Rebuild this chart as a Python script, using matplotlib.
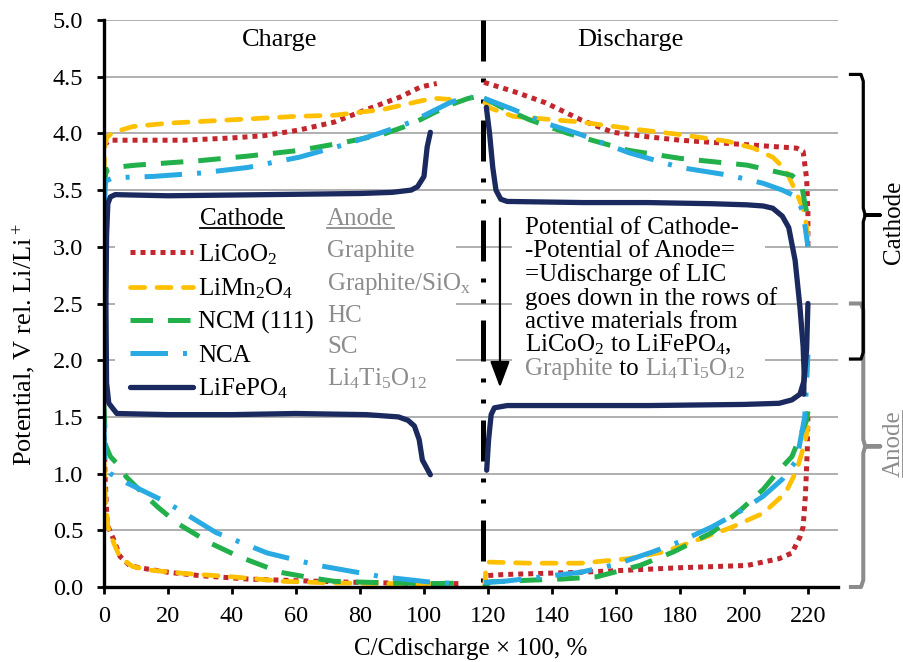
import matplotlib
matplotlib.use('Agg')
import matplotlib.pyplot as plt
from matplotlib.patches import Rectangle
from matplotlib.lines import Line2D
from matplotlib.transforms import IdentityTransform

plt.rcParams['font.family'] = ['Liberation Serif', 'DejaVu Serif']
plt.rcParams['mathtext.default'] = 'regular'

# ---------------- data ----------------
x_ticks = list(range(0, 221, 20))
y_ticks = [0.0, 0.5, 1.0, 1.5, 2.0, 2.5, 3.0, 3.5, 4.0, 4.5, 5.0]
divider_x = 118.4

# LiCoO2 cathode / Graphite anode
licoo2_chg_x = [0, 2, 10, 25, 40, 50, 61, 72, 82, 92.5, 99, 104]
licoo2_chg_y = [3.90, 3.94, 3.94, 3.94, 3.96, 3.98, 4.03, 4.10, 4.21, 4.32, 4.41, 4.44]
graphite_chg_x = [0, 0.3, 1, 3, 5, 8, 11, 20, 30, 45, 61, 80, 100, 111]
graphite_chg_y = [1.50, 1.00, 0.55, 0.42, 0.27, 0.19, 0.17, 0.13, 0.10, 0.07, 0.055, 0.04, 0.03, 0.03]
licoo2_dis_x = [118.8, 128, 138, 149, 159, 170, 180, 201, 216.5, 218.5, 219.6, 220, 220]
licoo2_dis_y = [4.45, 4.37, 4.27, 4.12, 4.01, 3.97, 3.94, 3.90, 3.87, 3.84, 3.60, 3.30, 3.00]
graphite_dis_x = [119, 119.5, 125, 149, 165, 180, 201, 211, 215, 217.5, 218.5, 219.2, 219.8, 220]
graphite_dis_y = [0.03, 0.10, 0.11, 0.13, 0.15, 0.17, 0.19, 0.25, 0.30, 0.44, 0.53, 0.80, 1.20, 1.50]

# LiMn2O4 cathode / Graphite-SiOx anode
limn_chg_x = [0, 0.3, 1, 3, 9, 20, 40, 60, 72, 87, 98, 103, 108]
limn_chg_y = [3.65, 3.90, 3.97, 4.01, 4.06, 4.09, 4.12, 4.15, 4.16, 4.21, 4.28, 4.31, 4.30]
sio_chg_x = [0, 0.5, 1.2, 3, 5, 9, 14, 25, 40, 56, 72, 90, 108]
sio_chg_y = [1.10, 0.75, 0.53, 0.39, 0.26, 0.18, 0.15, 0.12, 0.09, 0.05, 0.035, 0.03, 0.03]
limn_dis_x = [119, 121, 128, 149, 165, 180, 195, 203, 209, 213, 216.5, 219, 220]
limn_dis_y = [4.27, 4.22, 4.15, 4.10, 4.04, 3.99, 3.93, 3.87, 3.79, 3.68, 3.47, 3.30, 3.08]
sio_dis_x = [119, 119.3, 120, 133, 149, 164, 175, 185, 195.6, 206, 213, 216.5, 219, 220]
sio_dis_y = [0.00, 0.15, 0.22, 0.21, 0.21, 0.25, 0.31, 0.41, 0.52, 0.65, 0.83, 1.03, 1.27, 1.41]

# NCM (111) cathode / HC anode
ncm_chg_x = [0, 0.5, 1, 3, 10, 30, 45, 61, 75, 87, 96, 103, 109, 114, 116]
ncm_chg_y = [3.50, 3.64, 3.68, 3.70, 3.72, 3.76, 3.80, 3.85, 3.92, 3.99, 4.08, 4.18, 4.26, 4.31, 4.32]
hc_chg_x = [0, 0.5, 2, 4, 7, 12, 17, 23, 33, 42, 55, 65, 72, 90, 103, 113]
hc_chg_y = [1.60, 1.25, 1.15, 1.09, 0.97, 0.83, 0.70, 0.56, 0.39, 0.27, 0.13, 0.08, 0.05, 0.035, 0.03, 0.035]
ncm_dis_x = [118.8, 125, 133, 145, 155, 164, 180, 201, 215, 218, 219, 220]
ncm_dis_y = [4.31, 4.22, 4.12, 4.00, 3.92, 3.85, 3.78, 3.72, 3.63, 3.55, 3.39, 3.25]
hc_dis_x = [118.8, 120.6, 133, 143, 154, 167.5, 178, 190, 199, 206, 211, 215, 219.6, 220]
hc_dis_y = [0.00, 0.045, 0.06, 0.07, 0.09, 0.19, 0.31, 0.48, 0.68, 0.86, 1.03, 1.15, 1.47, 1.55]

# NCA cathode / SC anode
nca_chg_x = [0, 0.5, 3, 15, 30, 45, 61, 75, 87, 96, 103, 108, 112, 115]
nca_chg_y = [3.30, 3.58, 3.61, 3.62, 3.65, 3.70, 3.79, 3.90, 4.01, 4.10, 4.20, 4.27, 4.31, 4.32]
sc_chg_x = [0, 0.3, 2, 7, 20, 35, 51, 67, 87, 103, 110]
sc_chg_y = [1.45, 1.05, 1.00, 0.92, 0.74, 0.48, 0.30, 0.19, 0.09, 0.04, 0.03]
nca_dis_x = [118.8, 128, 138, 149, 164, 180, 195.6, 206, 212, 216.5, 218.5, 219.5, 220]
nca_dis_y = [4.31, 4.21, 4.09, 3.99, 3.83, 3.70, 3.63, 3.56, 3.50, 3.44, 3.30, 3.10, 3.00]
sc_dis_x = [118.8, 125, 140, 149, 160, 171.5, 180, 190, 199, 206, 212, 216.5, 219, 219.6, 220]
sc_dis_y = [0.04, 0.05, 0.10, 0.13, 0.20, 0.31, 0.40, 0.53, 0.67, 0.80, 0.95, 1.12, 1.50, 1.80, 2.05]

# LiFePO4 cathode / Li4Ti5O12 anode
lfp_chg_x = [0.6, 0.8, 1.2, 2, 3.5, 20, 51, 80, 90, 96, 98, 100, 101, 102]
lfp_chg_y = [2.50, 3.10, 3.38, 3.44, 3.46, 3.45, 3.46, 3.47, 3.48, 3.50, 3.53, 3.62, 3.88, 4.01]
lto_chg_x = [0.6, 0.8, 1.5, 4, 20, 40, 60, 82, 92, 95, 97, 98.5, 99.5, 102]
lto_chg_y = [2.50, 1.80, 1.62, 1.53, 1.52, 1.52, 1.53, 1.52, 1.50, 1.47, 1.42, 1.30, 1.12, 0.99]
lfp_dis_x = [119.5, 120.5, 121.5, 122.5, 124, 126, 150, 170, 190, 201, 206, 209, 212, 214, 216, 217.5, 218.5, 218.8, 218.7]
lfp_dis_y = [4.23, 4.00, 3.70, 3.50, 3.42, 3.40, 3.39, 3.39, 3.38, 3.37, 3.36, 3.34, 3.27, 3.17, 2.88, 2.47, 2.12, 1.90, 1.70]
lto_dis_x = [119.6, 120.2, 121, 122, 126, 170, 200, 211, 215, 217.5, 218.8, 219.6, 220]
lto_dis_y = [1.03, 1.30, 1.52, 1.58, 1.60, 1.60, 1.61, 1.62, 1.65, 1.70, 1.82, 2.10, 2.50]

cathode_labels = ['LiCoO$_2$', 'LiMn$_2$O$_4$', 'NCM (111)', 'NCA', 'LiFePO$_4$']
anode_labels = ['Graphite', 'Graphite/SiO$_x$', 'HC', 'SC', 'Li$_4$Ti$_5$O$_{12}$']
anode_label_y = [2.910, 2.619, 2.337, 2.063, 1.781]

note_lines = ['Potential of Cathode-', '-Potential of Anode=', '=Udischarge of LIC',
              'goes down in the rows of', 'active materials from',
              'LiCoO$_2$ to LiFePO$_4$,']
note_last = ['Graphite', ' to ', 'Li$_4$Ti$_5$O$_{12}$']

cathode_span = (2.01, 4.52, 3.28)
anode_span = (0.0, 2.5, 1.24)

# ---------------- styles ----------------
red = '#C1272D'
yellow = '#FFC000'
green = '#22B04B'
blue = '#29AAE2'
navy = '#1B2A5E'
gray = '#8C8C8C'

styles = [
    dict(color=red, lw=3.6, ls=(0, (1, 1)), dash_capstyle='butt'),
    dict(color=yellow, lw=3.4, ls=(0, (3, 2.6)), dash_capstyle='round'),
    dict(color=green, lw=3.6, ls=(0, (4.5, 3)), dash_capstyle='butt'),
    dict(color=blue, lw=3.6, ls=(0, (7.5, 3, 0.8, 3)), dash_capstyle='butt'),
    dict(color=navy, lw=3.8, ls='-', solid_capstyle='round', solid_joinstyle='round'),
]
series = [
    [(licoo2_chg_x, licoo2_chg_y), (graphite_chg_x, graphite_chg_y),
     (licoo2_dis_x, licoo2_dis_y), (graphite_dis_x, graphite_dis_y)],
    [(limn_chg_x, limn_chg_y), (sio_chg_x, sio_chg_y),
     (limn_dis_x, limn_dis_y), (sio_dis_x, sio_dis_y)],
    [(ncm_chg_x, ncm_chg_y), (hc_chg_x, hc_chg_y),
     (ncm_dis_x, ncm_dis_y), (hc_dis_x, hc_dis_y)],
    [(nca_chg_x, nca_chg_y), (sc_chg_x, sc_chg_y),
     (nca_dis_x, nca_dis_y), (sc_dis_x, sc_dis_y)],
    [(lfp_chg_x, lfp_chg_y), (lto_chg_x, lto_chg_y),
     (lfp_dis_x, lfp_dis_y), (lto_dis_x, lto_dis_y)],
]

FS = 18

# ---------------- figure ----------------
W, H = 904, 662
fig = plt.figure(figsize=(W / 100, H / 100), dpi=100)
ax = fig.add_axes([104 / W, 1 - 587 / H, 734 / W, 567 / H])
ax.set_xlim(0, 229.4)
ax.set_ylim(0, 5)
ax.set_axisbelow(True)
ax.grid(axis='y', color='#9A9A9A', lw=1.1)
ax.set_xticks(x_ticks)
ax.set_yticks(y_ticks)
ax.yaxis.set_major_formatter('{x:.1f}')
for s in ['top', 'right']:
    ax.spines[s].set_visible(False)
for s in ['left', 'bottom']:
    ax.spines[s].set_linewidth(2.4)
ax.tick_params(direction='out', length=5, width=2, labelsize=17.5, colors='black')
ax.tick_params(axis='y', pad=10)
ax.tick_params(axis='x', pad=9)

ax.set_ylabel('Potential, V rel. Li/Li$^+$', fontsize=19)
ax.yaxis.set_label_coords(-0.09, 0.427)
ax.set_xlabel('C/Cdischarge \u00d7 100, %', fontsize=18, va='top')
ax.xaxis.set_label_coords(0.5, -0.09)

# white boxes under text blocks
ax.add_patch(Rectangle((3.5, 1.66), 106.5, 1.74, facecolor='white', edgecolor='none', zorder=1))
ax.add_patch(Rectangle((127.5, 1.68), 79, 1.69, facecolor='white', edgecolor='none', zorder=1))

handles = []
for st, segs in zip(styles, series):
    for i, (xs, ys) in enumerate(segs):
        ln, = ax.plot(xs, ys, color=st['color'], lw=st['lw'], ls=st['ls'], zorder=2,
                      **{k: v for k, v in st.items() if k not in ('color', 'lw', 'ls')})
        if i == 0:
            handles.append(ln)

# divider
ax.plot([divider_x, divider_x], [5, 0], color='black', lw=3.6,
        ls=(0, (8.2, 3.4, 0.8, 3.4, 0.8, 3.4)), dash_capstyle='butt', zorder=1.8, clip_on=False)

ax.text(55, 4.82, 'Charge', fontsize=19, ha='center', va='center')
ax.text(164.4, 4.82, 'Discharge', fontsize=19, ha='center', va='center')

# legend
leg = ax.legend(handles, cathode_labels, loc='upper left',
                bbox_to_anchor=((130 - 104) / 734, (587 - 242) / 567),
                frameon=False, fontsize=FS, handlelength=2.52, handletextpad=0.2,
                labelspacing=0.4, borderpad=0, borderaxespad=0)

h_cat = ax.text(43.1, 3.192, 'Cathode', fontsize=FS, ha='center', va='baseline')
h_an = ax.text(69.7, 3.192, 'Anode', fontsize=FS, ha='left', va='baseline', color=gray)
for lab, yy in zip(anode_labels, anode_label_y):
    ax.text(69.7, yy, lab, fontsize=FS, ha='left', va='baseline', color=gray)

# note
note_x = 131.6
for i, line in enumerate(note_lines):
    ax.text(note_x, 3.113 - i * 0.2073, line, fontsize=FS, ha='left', va='baseline')
y_last = 3.113 - 6 * 0.2073

ax.annotate('', xy=(123.75, 1.76), xytext=(123.75, 3.25),
            arrowprops=dict(arrowstyle='-|>,head_length=0.8,head_width=0.3',
                            color='black', lw=1.6, mutation_scale=20, shrinkA=0, shrinkB=0))

# braces
def brace(span, color, lw):
    lo, hi, mid = span
    xs = [232.8, 236.6, 237.3, 237.3, 237.9, 242.6, 237.9, 237.3, 237.3, 236.6, 232.8]
    ys = [hi, hi, hi - 0.06, mid + 0.06, mid, mid, mid, mid - 0.06, lo + 0.06, lo, lo]
    ax.plot(xs, ys, color=color, lw=lw, clip_on=False, solid_joinstyle='round',
            solid_capstyle='butt')

brace(anode_span, gray, 2.9)
brace(cathode_span, 'black', 2.3)
ax.text(246.8, 3.22, 'Cathode', fontsize=FS, rotation=90, ha='center', va='center', clip_on=False)
t_anode_side = ax.text(246.8, 1.26, 'Anode', fontsize=FS, rotation=90, ha='center', va='center',
                       color=gray, clip_on=False)

# last note line with mixed colours
fig.canvas.draw()
r = fig.canvas.get_renderer()
inv = ax.transData.inverted()
xx = note_x
for txt, col in zip(note_last, [gray, 'black', gray]):
    t = ax.text(xx, y_last, txt, fontsize=FS, ha='left', va='baseline', color=col)
    fig.canvas.draw()
    bb = t.get_window_extent(r)
    xx = inv.transform((bb.x1, bb.y0))[0]

# underlines
fig.canvas.draw()
for t, col in [(h_cat, 'black'), (h_an, gray)]:
    bb = t.get_window_extent(r)
    yb = bb.y0 + 2
    fig.add_artist(Line2D([bb.x0, bb.x1], [yb, yb], color=col, lw=1.3,
                          transform=IdentityTransform()))
bb = t_anode_side.get_window_extent(r)
fig.add_artist(Line2D([bb.x1 - 2, bb.x1 - 2], [bb.y0, bb.y1], color=gray, lw=1.3,
                      transform=IdentityTransform()))

fig.savefig('out.png', dpi=100)
